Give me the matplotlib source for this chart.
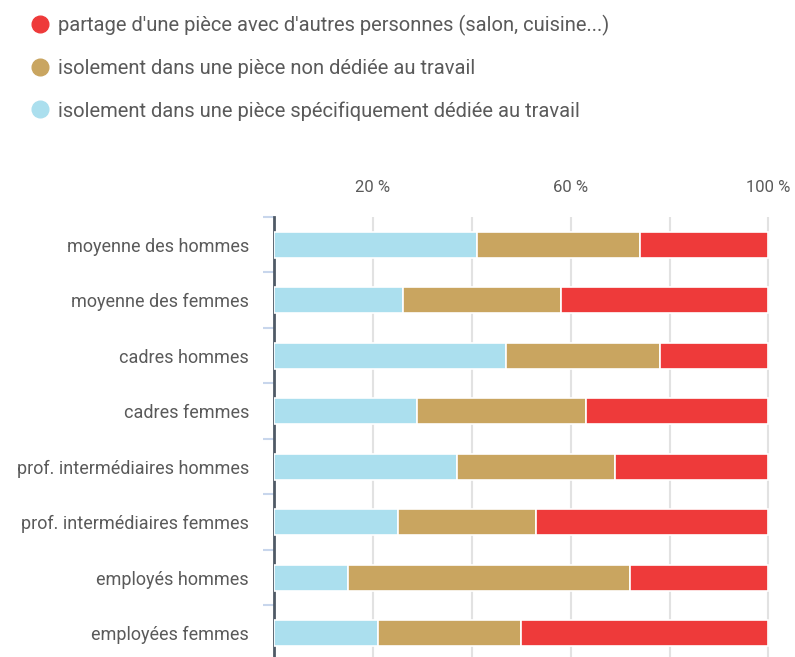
import numpy as np
import matplotlib.pyplot as plt
from matplotlib.lines import Line2D

plt.rcParams['font.family'] = ['Roboto', 'DejaVu Sans']

groups = ["moyenne des hommes", "moyenne des femmes", "cadres hommes", "cadres femmes",
          "prof. intermédiaires hommes", "prof. intermédiaires femmes",
          "employés hommes", "employées femmes"]
dediee = [41, 26, 47, 29, 37, 25, 15, 21]      # pièce spécifiquement dédiée
non_dediee = [33, 32, 31, 34, 32, 28, 57, 29]  # pièce non dédiée
partage = [26, 42, 22, 37, 31, 47, 28, 50]     # partage d'une pièce

series_names = ["partage d'une pièce avec d'autres personnes (salon, cuisine...)",
                "isolement dans une pièce non dédiée au travail",
                "isolement dans une pièce spécifiquement dédiée au travail"]
c_red, c_tan, c_blue = "#ee3a3a", "#c9a560", "#abdfee"
txt = "#5a5a5a"

fig = plt.figure(figsize=(7.95, 6.57), dpi=100)
ax = fig.add_axes([0.3447, -0.006, 0.6250, 0.6757])

y = np.arange(len(groups))
d = np.array(dediee)
n = np.array(non_dediee)
p = np.array(partage)
kw = dict(height=0.47, edgecolor="white", linewidth=1.2, zorder=3)
ax.barh(y, d, color=c_blue, **kw)
ax.barh(y, n, left=d, color=c_tan, **kw)
ax.barh(y, p, left=d + n, color=c_red, **kw)

ax.set_xlim(0, 100.5)
ax.set_ylim(len(groups) - 0.5, -0.5)
ax.xaxis.tick_top()
ax.set_xticks([20, 40, 60, 80, 100])
ax.set_xticklabels(["20 %", "", "60 %", "", "100 %"])
ax.tick_params(axis="x", length=0, pad=16, labelsize=12, labelcolor=txt)
ax.grid(axis="x", color="#e2e2e2", linewidth=1.5, zorder=0)

ax.set_yticks(y)
ax.set_yticklabels(groups)
ax.set_yticks(np.arange(-0.5, len(groups), 1.0), minor=True)
ax.tick_params(axis="y", which="major", length=0, pad=18, labelsize=13, labelcolor=txt)
ax.tick_params(axis="y", which="minor", length=8, width=1.5, color="#c8d6ec")

for s in ["top", "right", "bottom"]:
    ax.spines[s].set_visible(False)
ax.spines["left"].set_color("#4f5a66")
ax.spines["left"].set_linewidth(2)

handles = [Line2D([], [], marker="o", linestyle="", markersize=12, color=c)
           for c in (c_red, c_tan, c_blue)]
fig.legend(handles, series_names, loc="upper left", bbox_to_anchor=(0.028, 0.99),
           frameon=False, fontsize=14.5, labelcolor=txt, handletextpad=0.35,
           labelspacing=1.15, handlelength=1.0, borderaxespad=0)

fig.savefig("out.png", dpi=100)
